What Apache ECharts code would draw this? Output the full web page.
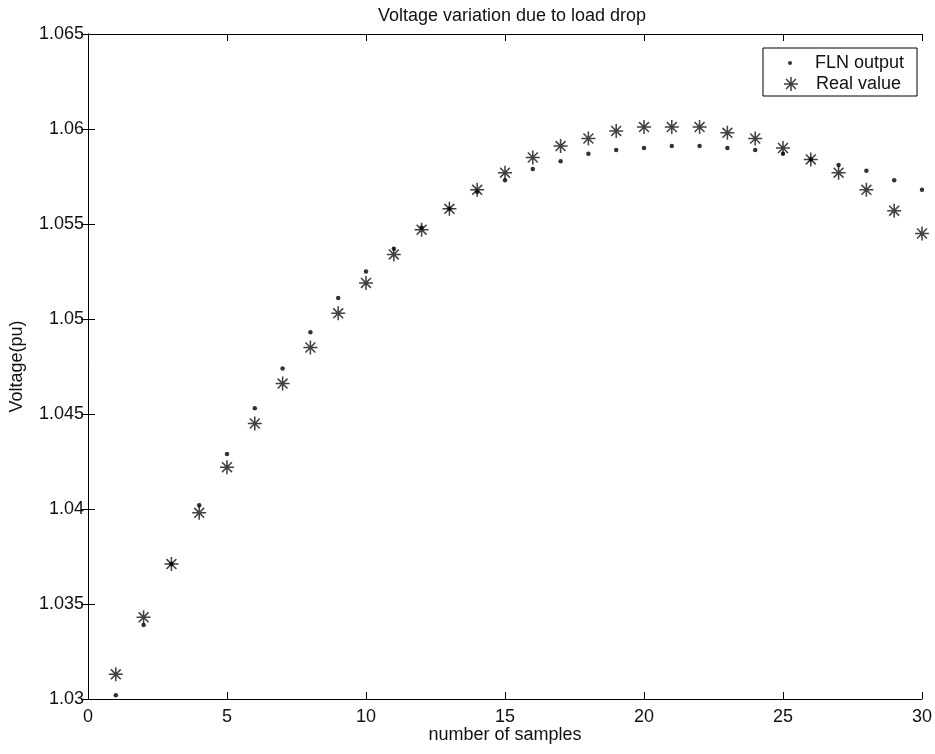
<!DOCTYPE html>
<html>
<head>
<meta charset="utf-8">
<script src="https://cdn.jsdelivr.net/npm/echarts@6/dist/echarts.min.js"></script>
<style>html,body{margin:0;padding:0;background:#fff;}#c{width:935px;height:754px;}</style>
</head>
<body>
<div id="c"></div>
<script>
const samples = [1,2,3,4,5,6,7,8,9,10,11,12,13,14,15,16,17,18,19,20,21,22,23,24,25,26,27,28,29,30];
const flnOutput = [1.0302,1.0339,1.0371,1.0402,1.0429,1.0453,1.0474,1.0493,1.0511,1.0525,1.0537,1.0548,1.0558,1.0567,1.0573,1.0579,1.0583,1.0587,1.0589,1.0590,1.0591,1.0591,1.0590,1.0589,1.0587,1.0584,1.0581,1.0578,1.0573,1.0568];
const realValue = [1.0313,1.0343,1.0371,1.0398,1.0422,1.0445,1.0466,1.0485,1.0503,1.0519,1.0534,1.0547,1.0558,1.0568,1.0577,1.0585,1.0591,1.0595,1.0599,1.0601,1.0601,1.0601,1.0598,1.0595,1.0590,1.0584,1.0577,1.0568,1.0557,1.0545];
const xTicks = [0,5,10,15,20,25,30];
const yTicks = ['1.03','1.035','1.04','1.045','1.05','1.055','1.06','1.065'];

const starPath = 'path://M-1.1,-10 L1.1,-10 L1.1,10 L-1.1,10 Z M-10,-1.1 L10,-1.1 L10,1.1 L-10,1.1 Z ' +
  'M-6.29,-7.85 L7.85,6.29 L6.29,7.85 L-7.85,-6.29 Z M-7.85,6.29 L6.29,-7.85 L7.85,-6.29 L-6.29,7.85 Z';

const FONT = 'Liberation Sans, Arial, Helvetica, sans-serif';
const chart = echarts.init(document.getElementById('c'), null, {renderer:'canvas'});

const axisCommon = {
  axisLine:{show:true, lineStyle:{color:'#000', width:1}},
  axisTick:{show:true, inside:true, length:7, lineStyle:{color:'#000'}},
  splitLine:{show:false}
};

chart.setOption({
  backgroundColor:'#fff',
  animation:false,
  title:{text:'Voltage variation due to load drop', left:507, textAlign:'center', top:2,
    textStyle:{fontFamily:FONT, fontSize:18, fontWeight:'normal', color:'#111'}},
  grid:{left:88, right:13, top:34, bottom:55},
  legend:[
    {data:[{name:'FLN output', icon:'circle'}], left:783, top:49, itemWidth:40, itemHeight:4,
     symbolKeepAspect:true, selectedMode:false,
     textStyle:{fontFamily:FONT, fontSize:18, color:'#111'}},
    {data:[{name:'Real value', icon:starPath}], left:779, top:70, itemWidth:40, itemHeight:14,
     symbolKeepAspect:true, selectedMode:false,
     textStyle:{fontFamily:FONT, fontSize:18, color:'#111'}}
  ],
  graphic:[{type:'rect', shape:{x:763, y:48, width:154, height:48},
    style:{fill:'none', stroke:'#000', lineWidth:1}, z:1}],
  xAxis:[
    Object.assign({type:'value', min:xTicks[0], max:xTicks[xTicks.length-1], interval:5, position:'bottom',
      name:'number of samples', nameLocation:'middle', nameGap:27, nameMoveOverlap:false,
      nameTextStyle:{fontFamily:FONT, fontSize:18, color:'#111'},
      axisLabel:{fontFamily:FONT, fontSize:18, color:'#111', margin:9}}, axisCommon),
    Object.assign({type:'value', min:xTicks[0], max:xTicks[xTicks.length-1], interval:5, position:'top',
      axisLabel:{show:false}}, axisCommon)
  ],
  yAxis:[
    Object.assign({type:'value', min:+yTicks[0], max:+yTicks[yTicks.length-1], interval:0.005, position:'left',
      name:'Voltage(pu)', nameLocation:'middle', nameGap:62, nameMoveOverlap:false,
      nameTextStyle:{fontFamily:FONT, fontSize:18, color:'#111'},
      axisLabel:{fontFamily:FONT, fontSize:18, color:'#111', margin:4,
        formatter:function(v){ return String(parseFloat(v.toFixed(3))); }}}, axisCommon),
    Object.assign({type:'value', min:+yTicks[0], max:+yTicks[yTicks.length-1], interval:0.005, position:'right',
      axisLabel:{show:false}}, axisCommon)
  ],
  series:[
    {name:'FLN output', type:'scatter', symbol:'circle', symbolSize:4.5,
     itemStyle:{color:'#000'}, data:samples.map((s,i)=>[s, flnOutput[i]]), z:3},
    {name:'Real value', type:'scatter', symbol:starPath, symbolSize:14, symbolKeepAspect:true,
     itemStyle:{color:'#111'}, data:samples.map((s,i)=>[s, realValue[i]]), z:2}
  ]
});
</script>
</body>
</html>
